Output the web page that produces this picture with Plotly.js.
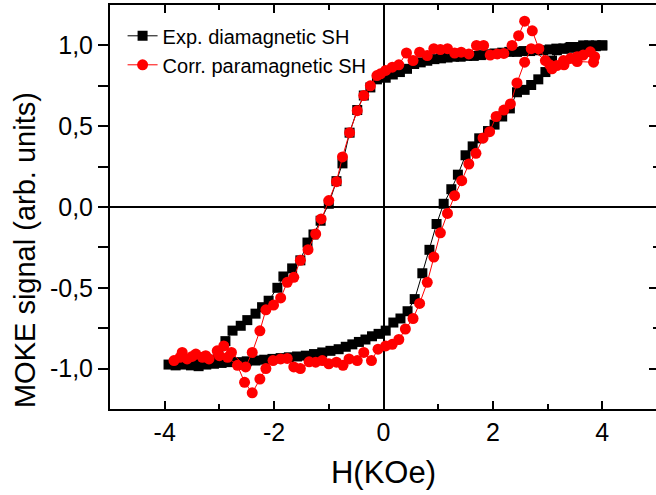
<!DOCTYPE html>
<html><head><meta charset="utf-8">
<script src="https://cdn.plot.ly/plotly-3.0.1.min.js"></script>
<style>html,body{margin:0;padding:0;overflow:hidden;background:#fff}#chart{width:660px;height:495px}</style>
</head><body><div id="chart"></div>
<script>
// ---- Data ----
const expH = [4.00,3.88,3.76,3.64,3.52,3.40,3.28,3.16,3.04,2.92,2.80,2.68,2.56,2.44,2.30,2.17,2.03,1.90,1.78,1.65,1.53,1.41,1.29,1.17,1.05,0.93,0.80,0.68,0.56,0.43,0.30,0.17,0.04,-0.12,-0.24,-0.36,-0.48,-0.62,-0.75,-0.86,-1.00,-1.15,-1.28,-1.39,-1.52,-1.67,-1.83,-1.94,-2.10,-2.22,-2.34,-2.49,-2.61,-2.76,-2.89,-3.02,-3.15,-3.30,-3.45,-3.60,-3.75,-3.93,
  -3.80,-3.66,-3.52,-3.38,-3.24,-3.10,-2.96,-2.80,-2.65,-2.50,-2.34,-2.18,-2.03,-1.88,-1.73,-1.58,-1.42,-1.27,-1.12,-0.97,-0.82,-0.69,-0.57,-0.45,-0.33,-0.21,-0.09,0.04,0.18,0.31,0.44,0.57,0.71,0.84,0.97,1.10,1.24,1.36,1.50,1.63,1.75,1.91,2.03,2.17,2.31,2.44,2.58,2.70,2.83,2.96,3.08,3.17,3.30,3.42,3.53,3.65,3.76,3.88,4.00];
const expM = [1.00,0.995,0.99,0.99,0.99,0.985,0.98,0.98,0.975,0.97,0.97,0.965,0.965,0.96,0.96,0.955,0.95,0.945,0.94,0.935,0.935,0.93,0.93,0.925,0.92,0.915,0.905,0.895,0.885,0.855,0.835,0.82,0.80,0.79,0.74,0.69,0.60,0.46,0.27,0.16,0.02,-0.085,-0.17,-0.22,-0.33,-0.38,-0.43,-0.50,-0.58,-0.62,-0.66,-0.70,-0.735,-0.765,-0.83,-0.92,-0.945,-0.955,-0.96,-0.965,-0.97,-0.975,
  -0.98,-0.975,-0.98,-0.985,-0.975,-0.97,-0.965,-0.96,-0.96,-0.955,-0.95,-0.945,-0.94,-0.935,-0.93,-0.925,-0.92,-0.91,-0.90,-0.89,-0.88,-0.865,-0.85,-0.835,-0.82,-0.80,-0.785,-0.765,-0.715,-0.69,-0.645,-0.57,-0.41,-0.265,-0.105,0.02,0.11,0.20,0.32,0.375,0.425,0.47,0.51,0.56,0.61,0.71,0.725,0.755,0.79,0.835,0.906,0.97,0.98,0.99,0.99,1.0,1.0,1.0,1.0];

const corrH = [3.86,3.78,3.65,3.54,3.42,3.29,3.17,3.04,2.84,2.72,2.58,2.47,2.35,2.20,2.08,1.95,1.83,1.70,1.56,1.42,1.30,1.17,1.04,0.92,0.80,0.66,0.54,0.42,0.28,0.16,0.04,-0.055,-0.12,-0.24,-0.36,-0.48,-0.62,-0.75,-0.86,-1.00,-1.14,-1.24,-1.38,-1.52,-1.64,-1.76,-1.88,-2.01,-2.15,-2.26,-2.40,-2.52,-2.78,-2.92,-3.04,-3.19,-3.31,-3.43,-3.59,-3.68,-3.83,
  -3.72,-3.50,-3.25,-3.00,-2.85,-2.67,-2.54,-2.40,-2.26,-2.15,-2.02,-1.88,-1.76,-1.64,-1.52,-1.36,-1.24,-1.12,-1.00,-0.86,-0.74,-0.63,-0.48,-0.36,-0.22,-0.10,0.04,0.16,0.28,0.40,0.54,0.66,0.80,0.92,1.04,1.17,1.30,1.43,1.56,1.69,1.82,1.94,2.06,2.20,2.32,2.44,2.58,2.70,2.96,3.08,3.30,3.54,3.84];
const corrM = [0.93,0.96,0.94,0.93,0.92,0.906,0.875,0.88,0.98,1.09,1.15,1.06,1.0,0.95,0.947,0.94,1.0,1.0,0.947,0.958,0.953,0.98,0.974,0.98,0.937,0.958,0.906,0.953,0.88,0.865,0.845,0.824,0.813,0.75,0.69,0.596,0.46,0.31,0.157,0.04,-0.074,-0.167,-0.264,-0.33,-0.435,-0.466,-0.563,-0.607,-0.636,-0.766,-0.90,-0.99,-0.90,-0.86,-0.89,-0.94,-0.93,-0.91,-0.94,-0.90,-0.95,
  -0.93,-0.925,-0.92,-0.92,-0.93,-0.98,-1.085,-1.15,-1.065,-1.0,-0.95,-0.94,-0.937,-0.99,-1.0,-0.958,-0.96,-0.95,-0.97,-0.96,-0.98,-0.94,-0.95,-0.90,-0.95,-0.88,-0.86,-0.85,-0.82,-0.755,-0.69,-0.597,-0.466,-0.31,-0.16,-0.04,0.07,0.163,0.266,0.332,0.427,0.466,0.56,0.60,0.638,0.768,0.896,0.98,0.906,0.855,0.88,0.90,0.896];

const seriesNames = ['Exp. diamagnetic SH', 'Corr. paramagnetic SH'];
const xTickVals = [-4, -2, 0, 2, 4];
const xTickText = ['-4', '-2', '0', '2', '4'];
const xMinorVals = [-5, -3, -1, 1, 3, 5];
const yTickVals = [-1.0, -0.5, 0.0, 0.5, 1.0];
const yTickText = ['-1,0', '-0,5', '0,0', '0,5', '1,0'];
const yMinorVals = [-0.75, -0.25, 0.25, 0.75];
const xTitle = 'H(KOe)';
const yTitle = 'MOKE signal (arb. units)';

// ---- Chart ----
const F = 'Liberation Sans, Arial, sans-serif';
const traces = [
  {x: expH, y: expM, name: seriesNames[0], type: 'scatter', mode: 'lines+markers',
   line: {color: '#000', width: 1}, marker: {symbol: 'square', size: 10, color: '#000'}},
  {x: corrH, y: corrM, name: seriesNames[1], type: 'scatter', mode: 'lines+markers',
   line: {color: '#ff0000', width: 1}, marker: {symbol: 'circle', size: 11, color: '#ff0000'}},
  {x: [], y: [], yaxis: 'y2', showlegend: false, hoverinfo: 'skip'}
];
const layout = {
  width: 660, height: 495,
  margin: {l: 110, r: 3, t: 5, b: 86},
  paper_bgcolor: '#fff', plot_bgcolor: '#fff',
  showlegend: true,
  legend: {x: 0.023, y: 0.972, xanchor: 'left', yanchor: 'top', bgcolor: 'rgba(0,0,0,0)',
           font: {family: F, size: 20, color: '#000'}, tracegroupgap: 0},
  xaxis: {range: [-5, 5], tickmode: 'array', tickvals: xTickVals, ticktext: xTickText,
          ticks: 'inside', ticklen: 8, tickwidth: 2, tickcolor: '#000',
          minor: {tickmode: 'array', tickvals: xMinorVals, ticks: 'inside', ticklen: 5, tickwidth: 2, tickcolor: '#000'},
          showline: true, linewidth: 2, linecolor: '#000', mirror: 'ticks',
          showgrid: false, zeroline: true, zerolinecolor: '#000', zerolinewidth: 2,
          tickfont: {family: F, size: 25, color: '#000'},
          title: {text: xTitle, font: {family: F, size: 31, color: '#000'}, standoff: 16}},
  yaxis: {range: [-1.25, 1.25], tickmode: 'array', tickvals: yTickVals, ticktext: yTickText,
          ticks: 'outside', ticklen: 10, tickwidth: 2, tickcolor: '#000',
          minor: {tickmode: 'array', tickvals: yMinorVals, ticks: 'outside', ticklen: 10, tickwidth: 2, tickcolor: '#000'},
          showline: true, linewidth: 2, linecolor: '#000', mirror: true,
          showgrid: false, zeroline: true, zerolinecolor: '#000', zerolinewidth: 2,
          tickfont: {family: F, size: 25, color: '#000'}},
  yaxis2: {range: [-1.25, 1.25], overlaying: 'y', side: 'right', anchor: 'x',
           tickmode: 'array', tickvals: yTickVals, showticklabels: false,
           ticks: 'inside', ticklen: 8, tickwidth: 2, tickcolor: '#000',
           minor: {tickmode: 'array', tickvals: yMinorVals, ticks: 'inside', ticklen: 4, tickwidth: 2, tickcolor: '#000'},
           showline: false, showgrid: false, zeroline: false},
  annotations: [{text: yTitle, textangle: -90, xref: 'paper', yref: 'paper',
                 x: -0.155, y: 0.394, xanchor: 'center', yanchor: 'middle', showarrow: false,
                 font: {family: F, size: 29, color: '#000'}}]
};
Plotly.newPlot('chart', traces, layout, {displayModeBar: false, staticPlot: true});
</script></body></html>
